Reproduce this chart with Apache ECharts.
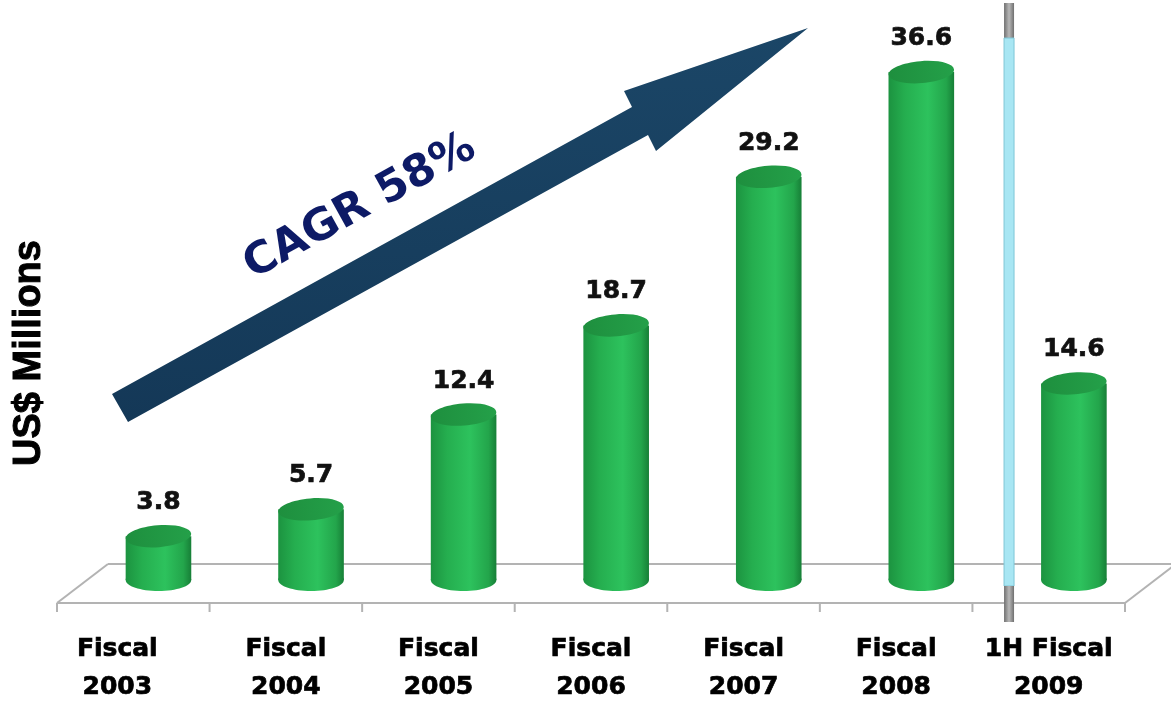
<!DOCTYPE html>
<html>
<head>
<meta charset="utf-8">
<title>US$ Millions</title>
<script src="https://cdn.jsdelivr.net/npm/echarts@6/dist/echarts.min.js"></script>
<style>
  html, body { margin: 0; padding: 0; background: #fff; }
  #main { width: 1171px; height: 706px; }
</style>
</head>
<body>
<div id="main"></div>
<script>
// 类目 / 数值
var categories = ['Fiscal\n2003', 'Fiscal\n2004', 'Fiscal\n2005', 'Fiscal\n2006', 'Fiscal\n2007', 'Fiscal\n2008', '1H Fiscal\n2009']
var revenue = [3.8, 5.7, 12.4, 18.7, 29.2, 36.6, 14.6]
var valueTicks = [0, 40]
var axisTitle = 'US$ Millions'
var cagrText = 'CAGR 58%'
var splitAfter = 5 // 分隔线在第6个类目之后

var chart = echarts.init(document.getElementById('main'))

var floorColor = '#b3b3b3'

// 圆柱体
function renderCylinder (params, api) {
  var idx = api.value(0)
  var top = api.coord([idx, api.value(1)])
  var base = api.coord([idx, 0])
  var band = api.size([1, 0])[0]
  var w = band * 0.43
  var depth = band * 0.165
  var cx = top[0] + depth
  var rx = w / 2
  var ry = 11
  var yTop = top[1]
  var yBot = base[1] - 10
  var body = new echarts.graphic.LinearGradient(0, 0, 1, 0, [
    { offset: 0, color: '#1c9340' },
    { offset: 0.25, color: '#25ae4f' },
    { offset: 0.6, color: '#2dc25d' },
    { offset: 0.88, color: '#23a54b' },
    { offset: 1, color: '#177f37' }
  ])
  return {
    type: 'group',
    children: [
      {
        type: 'ellipse',
        shape: { cx: cx, cy: yBot, rx: rx, ry: ry },
        style: { fill: body }
      },
      {
        type: 'rect',
        shape: { x: cx - rx, y: yTop, width: w, height: yBot - yTop },
        style: { fill: body }
      },
      {
        type: 'ellipse',
        shape: { cx: cx, cy: yTop, rx: rx, ry: ry },
        rotation: 0.08,
        originX: cx,
        originY: yTop,
        style: {
          fill: new echarts.graphic.LinearGradient(0, 0, 1, 0, [
            { offset: 0, color: '#1e8f3e' },
            { offset: 1, color: '#24a049' }
          ])
        }
      },
      {
        type: 'text',
        x: cx,
        y: yTop - ry - 10,
        style: {
          text: api.value(1).toFixed(1),
          align: 'center',
          verticalAlign: 'bottom',
          fontFamily: 'DejaVu Sans',
          fontWeight: 'bold',
          fontSize: 25,
          fill: '#111',
          stroke: '#111',
          lineWidth: 0.7
        }
      }
    ]
  }
}

// 地面 + 刻度 + 分隔线
function renderFloor (params, api) {
  var cs = params.coordSys
  var band = api.size([1, 0])[0]
  var dx = band * 0.334
  var x0 = cs.x
  var x1 = cs.x + cs.width
  var yF = cs.y + cs.height + 13
  var yB = yF - 39
  var line = { stroke: floorColor, lineWidth: 2 }
  var sx = api.coord([splitAfter, 0])[0] + band / 2 + band * 0.24
  var capFill = new echarts.graphic.LinearGradient(0, 0, 1, 0, [
    { offset: 0, color: '#6f6f6f' },
    { offset: 0.5, color: '#b8b8b8' },
    { offset: 1, color: '#6f6f6f' }
  ])
  var children = [
    { type: 'line', shape: { x1: x0 + dx, y1: yB, x2: x1 + dx, y2: yB }, style: line },
    { type: 'line', shape: { x1: x0, y1: yF, x2: x0 + dx, y2: yB }, style: line },
    { type: 'line', shape: { x1: x1, y1: yF, x2: x1 + dx, y2: yB }, style: line },
    { type: 'line', shape: { x1: x0, y1: yF, x2: x1, y2: yF }, style: line }
  ]
  // 前沿刻度
  for (var i = 0; i <= categories.length; i++) {
    var tx = x0 + band * i
    children.push({ type: 'line', shape: { x1: tx, y1: yF, x2: tx, y2: yF + 9 }, style: line })
  }
  children.push(
    { type: 'rect', z2: 5, shape: { x: sx - 5, y: cs.y - 21, width: 10, height: 35 }, style: { fill: capFill } },
    { type: 'rect', z2: 5, shape: { x: sx - 5, y: cs.y + 14, width: 10, height: yF - 17 - cs.y - 14 }, style: { fill: '#a8e6f3', stroke: '#7fc6d6', lineWidth: 1 } },
    { type: 'rect', z2: 5, shape: { x: sx - 5, y: yF - 17, width: 10, height: 36 }, style: { fill: capFill } }
  )
  return { type: 'group', children: children }
}

var option = {
  backgroundColor: '#fff',
  animation: false,
  grid: { left: 57, right: 46, top: 24, bottom: 115 },
  xAxis: {
    type: 'category',
    data: categories.map(function (c, i) {
      // 第一个标签略靠左
      return i === 0 ? { value: c, textStyle: { padding: [0, 32, 0, 0] } } : c
    }),
    axisLine: { show: false },
    axisTick: { show: false },
    axisLabel: {
      interval: 0,
      color: '#000',
      fontFamily: 'DejaVu Sans',
      fontWeight: 'bold',
      fontSize: 25,
      lineHeight: 38,
      margin: 40,
      textBorderColor: '#000',
      textBorderWidth: 0.7
    }
  },
  yAxis: {
    type: 'value',
    min: valueTicks[0],
    max: valueTicks[1],
    axisLine: { show: false },
    axisTick: { show: false },
    axisLabel: { show: false },
    splitLine: { show: false }
  },
  graphic: [
    {
      type: 'text',
      x: 30,
      y: 353,
      rotation: Math.PI / 2,
      style: {
        text: axisTitle,
        align: 'center',
        verticalAlign: 'middle',
        fontFamily: 'Liberation Sans',
        fontWeight: 'bold',
        fontSize: 38,
        fill: '#000',
        stroke: '#000',
        lineWidth: 1
      }
    },
    {
      type: 'polygon',
      shape: {
        points: [[112, 394], [632, 107], [624, 91], [808, 28], [656, 151], [648, 135], [128, 422]]
      },
      style: {
        fill: new echarts.graphic.LinearGradient(0, 0, 0, 1, [
          { offset: 0, color: '#1b4667' },
          { offset: 1, color: '#143857' }
        ])
      }
    },
    {
      type: 'text',
      x: 360,
      y: 207,
      rotation: 0.505,
      style: {
        text: cagrText,
        align: 'center',
        verticalAlign: 'middle',
        fontFamily: 'DejaVu Sans',
        fontWeight: 'bold',
        fontSize: 44,
        fill: '#0d1a66'
      }
    }
  ],
  series: [
    {
      type: 'custom',
      renderItem: renderFloor,
      data: [[0, 0]],
      z: 1,
      silent: true
    },
    {
      type: 'custom',
      renderItem: renderCylinder,
      data: revenue.map(function (v, i) { return [i, v] }),
      encode: { x: 0, y: 1 },
      z: 3
    }
  ]
}
chart.setOption(option)
</script>
</body>
</html>
